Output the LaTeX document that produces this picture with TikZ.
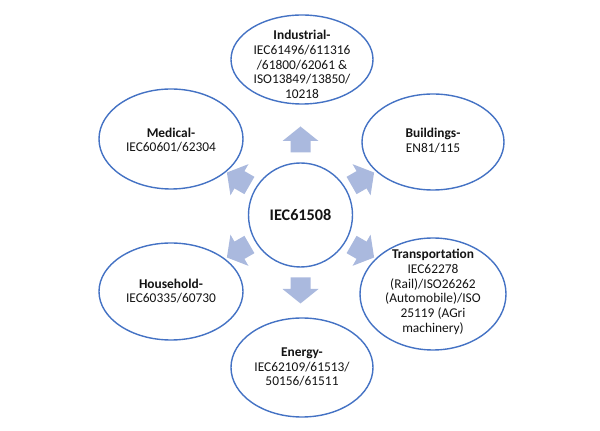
\documentclass[tikz,border=0pt]{standalone}
\usepackage{fontspec}
\setmainfont{Carlito}
\usetikzlibrary{shapes.geometric}
\definecolor{ovalline}{RGB}{68,114,196}
\definecolor{arrowfill}{RGB}{170,185,222}
\definecolor{txtcol}{RGB}{20,20,20}
\tikzset{
  oval/.style={draw=ovalline, line width=1.4pt, fill=white, ellipse, inner sep=0pt},
  txt/.style={align=center, inner sep=0pt, text=txtcol, font=\fontsize{13.4pt}{14.7pt}\selectfont},
  blockarrow/.style={fill=arrowfill, draw=none}
}
\begin{document}
\begin{tikzpicture}[x=1pt,y=1pt]
\useasboundingbox (0,0) rectangle (600,431);
% centre
\node[oval, circle, minimum size=104pt] (c) at (300.5,216) {};
\node[txt, font=\fontsize{16.2pt}{18pt}\selectfont\bfseries] (ct) at (c.center) {IEC61508};
% block arrows
\foreach \a/\r in {90/75.5, 30/72, -30/72, -90/75.5, -150/72, 150/72}{
  \fill[blockarrow, shift={(c.center)}, rotate=\a]
    ({\r-13},-10) -- ({\r-1.5},-10) -- ({\r-1.5},-18) -- ({\r+13},0)
    -- ({\r-1.5},18) -- ({\r-1.5},10) -- ({\r-13},10) -- cycle;
}
% outer ellipses
\node[oval, minimum width=142pt, minimum height=89pt] (ind) at (302,371.5) {};
\node[oval, minimum width=142pt, minimum height=96pt] (bld) at (433,289) {};
\node[oval, minimum width=146pt, minimum height=112pt] (trn) at (433,137) {};
\node[oval, minimum width=142pt, minimum height=99pt] (eng) at (302,63.5) {};
\node[oval, minimum width=144pt, minimum height=97pt] (hh) at (171,139.5) {};
\node[oval, minimum width=144pt, minimum height=100pt] (med) at (171,292) {};
% texts
\node[txt] (indt) at (302,366.5) {\textbf{Industrial-}\\IEC61496/611316\\/61800/62061 \&\\ISO13849/13850/\\10218};
\node[txt] (bldt) at (433,290.5) {\textbf{Buildings-}\\EN81/115};
\node[txt] (trnt) at (433,139) {\textbf{Transportation}\\IEC62278\\(Rail)/ISO26262\\(Automobile)/ISO\\25119 (AGri\\machinery)};
\node[txt] (engt) at (302,64) {\textbf{Energy-}\\IEC62109/61513/\\50156/61511};
\node[txt] (hht) at (171,140) {\textbf{Household-}\\IEC60335/60730};
\node[txt] (medt) at (171,291) {\textbf{Medical-}\\IEC60601/62304};
\end{tikzpicture}
\end{document}
